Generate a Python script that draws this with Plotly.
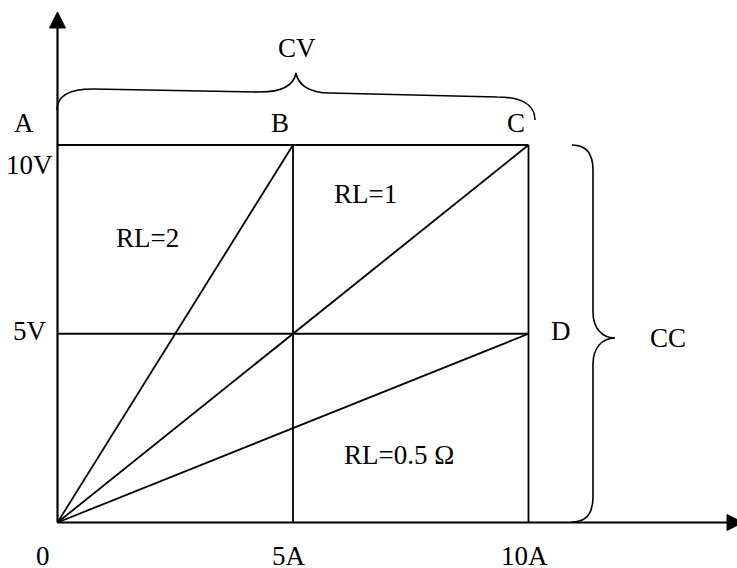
import plotly.graph_objects as go

# Current (A) / voltage (V) grid of the CV-CC diagram
grid_currents = [5, 10]
grid_voltages = [5, 10]
max_current = 10
max_voltage = 10

# load lines from origin, end point for each RL
load_names = ["RL=2", "RL=1", "RL=0.5 Ω"]
load_end_current = [5, 10, 10]
load_end_voltage = [10, 10, 5]

# tick labels
x_tick_vals = [0, 5, 10]
x_tick_text = ["0", "5A", "10A"]
y_tick_vals = [5, 10]
y_tick_text = ["5V", "10V"]

# corner points
point_names = ["A", "B", "C", "D"]
point_current = [0, 5, 10, 10]
point_voltage = [10, 10, 10, 5]

# pixel <-> data mapping
W, H = 737, 568
OX, OY = 57.5, 522.5
SX, SY = 47.1, 37.75


def px(x, y):
    # page pixel -> data coords (for the hand-drawn braces / arrows)
    return f"{(x - OX) / SX:.4f},{(OY - y) / SY:.4f}"


def dx(x):
    return (x - OX) / SX


def dy(y):
    return (OY - y) / SY


LINE = dict(color="black", width=1.8)
FONT = dict(family="Liberation Serif, Times New Roman, serif", size=27, color="black")

fig = go.Figure()

# rectangle grid
for v in grid_voltages:
    fig.add_trace(go.Scatter(x=[0, max_current], y=[v, v], mode="lines", line=LINE))
for c in grid_currents:
    fig.add_trace(go.Scatter(x=[c, c], y=[0, max_voltage], mode="lines", line=LINE))

# load lines
for name, c, v in zip(load_names, load_end_current, load_end_voltage):
    fig.add_trace(go.Scatter(x=[0, c], y=[0, v], mode="lines", line=LINE, name=name))

# axes with arrow heads
shapes = [
    dict(type="path", path=f"M {px(57.5, 522.5)} L {px(57.5, 20)}",
         line=dict(color="black", width=2.2)),
    dict(type="path", path=f"M {px(57.5, 522.5)} L {px(735, 522.5)}",
         line=dict(color="black", width=2.2)),
    dict(type="path", path=f"M {px(57.5, 12)} L {px(49.5, 28)} L {px(65.5, 28)} Z",
         fillcolor="black", line=dict(color="black", width=1)),
    dict(type="path", path=f"M {px(743, 522.5)} L {px(727, 514.5)} L {px(727, 530.5)} Z",
         fillcolor="black", line=dict(color="black", width=1)),
    # CV brace
    dict(type="path",
         path=(f"M {px(57, 110)} C {px(57, 96)} {px(70, 89)} {px(93, 89)} "
               f"L {px(260, 92)} C {px(284, 92)} {px(294, 84)} {px(296, 73)} "
               f"C {px(298, 84)} {px(308, 93)} {px(330, 93)} "
               f"L {px(497, 97)} C {px(520, 97)} {px(535, 104)} {px(535, 120)}"),
         line=dict(color="black", width=1.6)),
    # CC brace
    dict(type="path",
         path=(f"M {px(572, 145)} C {px(586, 145)} {px(593, 154)} {px(593, 170)} "
               f"L {px(593, 312)} C {px(593, 328)} {px(602, 338)} {px(615, 338)} "
               f"C {px(602, 338)} {px(593, 348)} {px(593, 364)} "
               f"L {px(593, 497)} C {px(593, 513)} {px(586, 522)} {px(572, 522)}"),
         line=dict(color="black", width=1.6)),
]

annotations = []
# tick labels
for v, t in zip(x_tick_vals, x_tick_text):
    sx = -15 if v == 0 else -4
    annotations.append(dict(x=v, y=0, text=t, showarrow=False, xshift=sx, yshift=-33, font=FONT))
y_shifts = {"5V": 3, "10V": -20}
for v, t in zip(y_tick_vals, y_tick_text):
    annotations.append(dict(x=0, y=v, text=t, showarrow=False, xshift=-28, yshift=y_shifts[t], font=FONT))

# point labels
shifts = {"A": (-34, 22), "B": (-13, 22), "C": (-13, 22), "D": (32, 3)}
for n, c, v in zip(point_names, point_current, point_voltage):
    sx, sy = shifts[n]
    annotations.append(dict(x=c, y=v, text=n, showarrow=False, xshift=sx, yshift=sy, font=FONT))

# load labels (pixel centres)
load_label_pos = [(147, 238), (365, 194), (399, 455)]
for name, (x, y) in zip(load_names, load_label_pos):
    annotations.append(dict(x=dx(x), y=dy(y), text=name, showarrow=False, font=FONT))

# region labels
annotations.append(dict(x=dx(297), y=dy(48), text="CV", showarrow=False, font=FONT))
annotations.append(dict(x=dx(668), y=dy(338), text="CC", showarrow=False, font=FONT))

fig.update_layout(
    width=W,
    height=H,
    margin=dict(l=0, r=0, t=0, b=0),
    paper_bgcolor="white",
    plot_bgcolor="white",
    showlegend=False,
    shapes=shapes,
    annotations=annotations,
    xaxis=dict(range=[-OX / SX, (W - OX) / SX], visible=False, fixedrange=True),
    yaxis=dict(range=[(OY - H) / SY, OY / SY], visible=False, fixedrange=True),
)

fig.write_html("out.html", config={"displayModeBar": False},
               post_script="document.body.style.margin='0px';")
